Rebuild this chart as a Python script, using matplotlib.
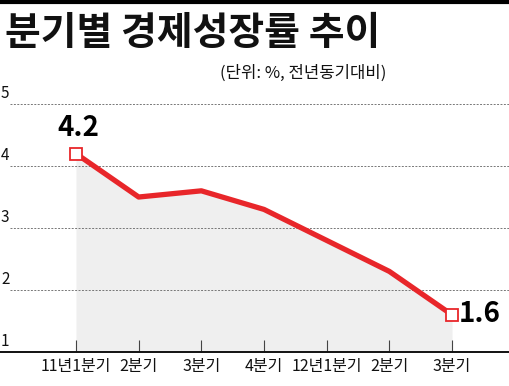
import matplotlib
matplotlib.use("Agg")
import matplotlib.pyplot as plt
from matplotlib.lines import Line2D

categories = ["11년1분기", "2분기", "3분기", "4분기", "12년1분기", "2분기", "3분기"]
growth = [4.2, 3.5, 3.6, 3.3, 2.8, 2.3, 1.6]
yticks = [1, 2, 3, 4, 5]

RED = "#e8262a"
KR = "Noto Sans CJK KR"

plt.rcParams['font.family'] = [KR, 'DejaVu Sans']

fig = plt.figure(figsize=(5.10, 3.86), dpi=100)
ax = fig.add_axes([0, 1 - 352 / 386, 1, 0.1606 * 4.3])
x = list(range(len(growth)))
ax.set_xlim(-76 / 62.67, (510 - 76) / 62.67)
ax.set_ylim(1, 5.3)

ax.fill_between(x, growth, 1, color="#efefef", zorder=1, linewidth=0)
for yv in yticks[1:]:
    ax.axhline(yv, xmin=0.02, xmax=1, color="#777777", linestyle=(0, (2, 1.5)), linewidth=0.7, zorder=2)

for yv in yticks:
    ax.text(-76 / 62.67 + 1 / 62.67, yv + 0.04, str(yv), ha="left", va="bottom",
            fontsize=11, color="#111111")

ax.plot(x, growth, color=RED, linewidth=3.8, zorder=3, solid_joinstyle="round")
ax.plot([x[0], x[-1]], [growth[0], growth[-1]], linestyle="none", marker="s", markersize=8.5,
        markerfacecolor="white", markeredgecolor=RED, markeredgewidth=1.3, zorder=4)

ax.text(x[0] + 0.03, growth[0] + 0.18, f"{growth[0]}", ha="center", va="bottom",
        fontsize=20, fontweight="bold", color="black")
ax.text(x[-1] + 0.1, growth[-1] + 0.02, f"{growth[-1]}", ha="left", va="center",
        fontsize=20, fontweight="bold", color="black")

for s in ["top", "right", "left"]:
    ax.spines[s].set_visible(False)
ax.spines["bottom"].set_linewidth(1.4)
ax.spines["bottom"].set_color("#111111")
ax.set_yticks([])
ax.set_xticks(x)
ax.set_xticklabels(categories, fontsize=11.5, color="#111111")
ax.tick_params(axis="x", direction="in", length=9, width=0.8, color="#444444", pad=4)

fig.add_artist(Line2D([0, 1], [1 - 1.5 / 386, 1 - 1.5 / 386], color="black", linewidth=3))
fig.text(5 / 510, 1 - 33 / 386, "분기별 경제성장률 추이", ha="left", va="center",
         fontsize=28, fontweight="bold", color="#111111")
fig.text(386 / 510, 1 - 73 / 386, "(단위: %, 전년동기대비)", ha="right", va="center",
         fontsize=12, fontweight="medium", color="#111111")

fig.savefig("out.png", dpi=100)
